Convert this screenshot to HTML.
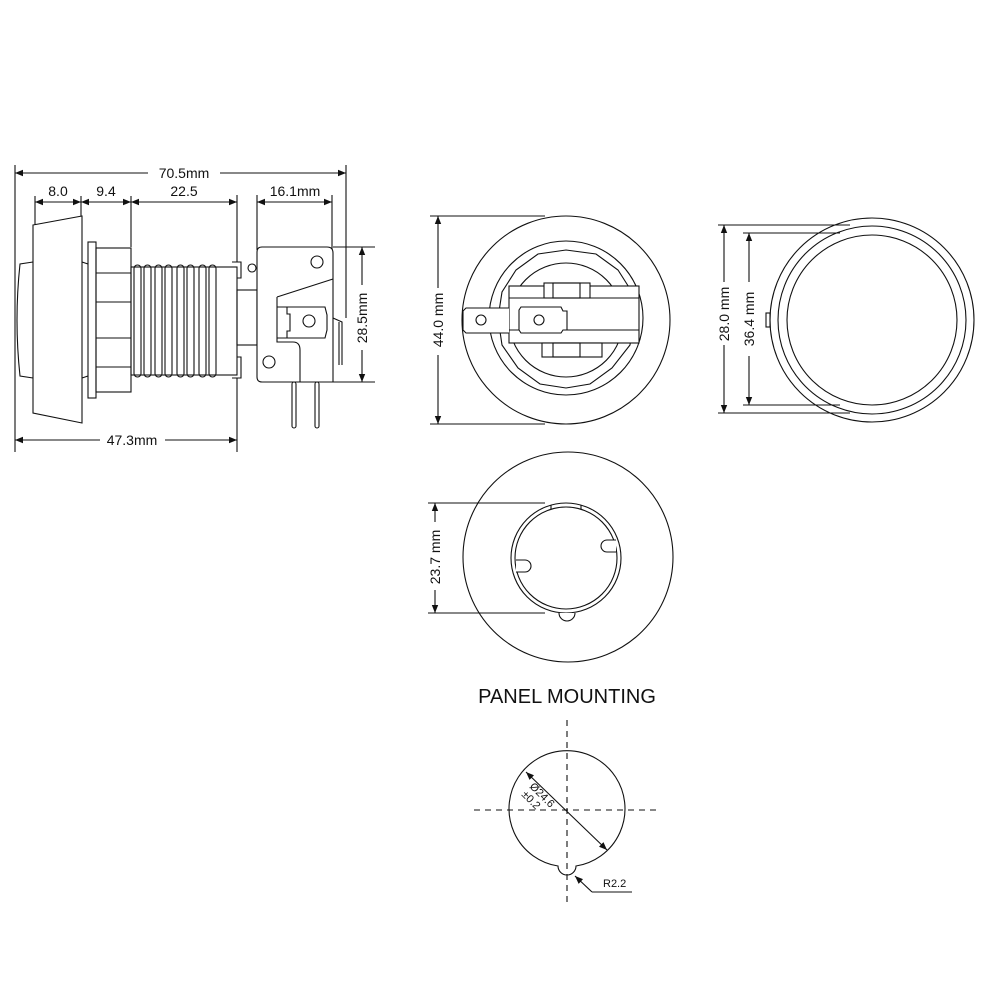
<!DOCTYPE html>
<html><head><meta charset="utf-8"><style>
html,body{margin:0;padding:0;background:#fff}
svg{display:block}
text{font-family:"Liberation Sans",Arial,sans-serif;fill:#111}
</style></head><body>
<svg width="1000" height="1000" viewBox="0 0 1000 1000" xmlns="http://www.w3.org/2000/svg">
<defs>
<marker id="a" viewBox="0 0 10 10" refX="10" refY="5" markerWidth="10" markerHeight="8" orient="auto-start-reverse" markerUnits="userSpaceOnUse"><path d="M0,1 L10,5 L0,9 z" fill="#111"/></marker>
</defs>
<g fill="none" stroke="#111" stroke-width="1.1">
<!-- SIDE VIEW dims -->
<line x1="15" y1="165" x2="15" y2="452"/>
<line x1="346" y1="165" x2="346" y2="318"/>
<line x1="15" y1="173" x2="148" y2="173" marker-start="url(#a)"/>
<line x1="220" y1="173" x2="346" y2="173" marker-end="url(#a)"/>
<line x1="35" y1="196" x2="35" y2="225"/>
<line x1="81" y1="196" x2="81" y2="216"/>
<line x1="131" y1="196" x2="131" y2="247"/>
<line x1="237" y1="195" x2="237" y2="262"/>
<line x1="237" y1="378" x2="237" y2="452"/>
<line x1="35" y1="202" x2="81" y2="202" marker-start="url(#a)" marker-end="url(#a)"/>
<line x1="81" y1="202" x2="131" y2="202" marker-start="url(#a)" marker-end="url(#a)"/>
<line x1="131" y1="202" x2="237" y2="202" marker-start="url(#a)" marker-end="url(#a)"/>
<line x1="257" y1="195" x2="257" y2="250"/>
<line x1="332" y1="195" x2="332" y2="250"/>
<line x1="257" y1="202" x2="332" y2="202" marker-start="url(#a)" marker-end="url(#a)"/>
<line x1="15" y1="440" x2="100" y2="440" marker-start="url(#a)"/>
<line x1="165" y1="440" x2="237" y2="440" marker-end="url(#a)"/>
<line x1="333" y1="247" x2="375" y2="247"/>
<line x1="333" y1="382" x2="375" y2="382"/>
<line x1="362" y1="247" x2="362" y2="285" marker-start="url(#a)"/>
<line x1="362" y1="350" x2="362" y2="382" marker-end="url(#a)"/>
<!-- side view body -->
<path d="M33,262 L20,264 Q14,320 20,376 L33,378"/>
<path d="M33,225 L82,216 L82,423 L33,413 Z"/>
<path d="M82,262 L88,264 M82,378 L88,376"/>
<rect x="88" y="242" width="8" height="156"/>
<rect x="96" y="248" width="35" height="144"/>
<path d="M96,273 H131 M96,302 H131 M96,338 H131 M96,367 H131"/>
<rect x="131" y="267" width="106" height="108"/>
<g>
<rect x="134" y="265" width="7" height="112" rx="3.5"/>
<rect x="144" y="265" width="7" height="112" rx="3.5"/>
<rect x="155" y="265" width="7" height="112" rx="3.5"/>
<rect x="165" y="265" width="7" height="112" rx="3.5"/>
<rect x="177" y="265" width="7" height="112" rx="3.5"/>
<rect x="187" y="265" width="7" height="112" rx="3.5"/>
<rect x="199" y="265" width="7" height="112" rx="3.5"/>
<rect x="209" y="265" width="7" height="112" rx="3.5"/>
</g>
<path d="M232,262 H241 V278 H237 M232,378 H241 V357 H237"/>
<circle cx="252" cy="268" r="4"/>
<rect x="237" y="290" width="20" height="55"/>
<path d="M262,247 H327 Q333,247 333,253 V382 H262 Q257,382 257,377 V252 Q257,247 262,247 Z" fill="#fff"/>
<path d="M277,297 L333,279 M277,297 V342 L293,342 Q300,342 300,350 V382"/>
<path d="M277,307 H325 L327,315 V330 L325,338 H277 M287,307 V314 H290 V331 H287 V338"/>
<circle cx="317" cy="262" r="6"/>
<circle cx="309" cy="321" r="6"/>
<circle cx="269" cy="362" r="6"/>
<path d="M333,318 L342,322 V365 M339,322 V365"/>
<rect x="292" y="382" width="4" height="46" rx="2"/>
<rect x="315" y="382" width="4" height="46" rx="2"/>
<!-- FRONT VIEW -->
<line x1="430" y1="216" x2="545" y2="216"/>
<line x1="430" y1="424" x2="545" y2="424"/>
<line x1="438" y1="216" x2="438" y2="288" marker-start="url(#a)"/>
<line x1="438" y1="355" x2="438" y2="424" marker-end="url(#a)"/>
<circle cx="566" cy="320" r="104"/>
<circle cx="566" cy="318" r="77"/>
<path d="M566,250 L596,254 L618,270 L632,292 L634,318 L630,345 L612,368 L590,384 L566,388 L540,384 L518,368 L502,345 L498,318 L502,292 L516,270 L538,254 Z"/>
<circle cx="566" cy="320" r="57"/>
<rect x="509" y="286" width="130" height="57" fill="#fff"/>
<path d="M509,298 H639 M509,330 H639"/>
<rect x="544" y="283" width="46" height="15" fill="#fff"/>
<rect x="553" y="283" width="27" height="15"/>
<rect x="542" y="343" width="60" height="14" fill="#fff"/>
<rect x="553" y="343" width="27" height="14"/>
<path d="M509,308 H466 L463,311 V330 L466,333 H509" fill="#fff"/>
<circle cx="481" cy="320" r="5"/>
<path d="M521,307 H561 L563,311 H567 V330 H563 L561,333 H521 L519,330 V310 Z" fill="#fff"/>
<circle cx="539" cy="320" r="5"/>
<!-- RIGHT VIEW -->
<line x1="718" y1="225" x2="850" y2="225"/>
<line x1="718" y1="413" x2="850" y2="413"/>
<line x1="743" y1="233" x2="840" y2="233"/>
<line x1="743" y1="405" x2="840" y2="405"/>
<line x1="724" y1="225" x2="724" y2="282" marker-start="url(#a)"/>
<line x1="724" y1="345" x2="724" y2="413" marker-end="url(#a)"/>
<line x1="749" y1="233" x2="749" y2="282" marker-start="url(#a)"/>
<line x1="749" y1="356" x2="749" y2="405" marker-end="url(#a)"/>
<circle cx="872" cy="320" r="102"/>
<circle cx="872" cy="320" r="94"/>
<circle cx="872" cy="320" r="85"/>
<rect x="766" y="313" width="4" height="14"/>
<!-- BOTTOM VIEW -->
<circle cx="568" cy="557" r="105"/>
<line x1="428" y1="503" x2="545" y2="503"/>
<line x1="428" y1="613" x2="545" y2="613"/>
<line x1="435" y1="503" x2="435" y2="522" marker-start="url(#a)"/>
<line x1="435" y1="590" x2="435" y2="613" marker-end="url(#a)"/>
<circle cx="566" cy="558" r="55" fill="#fff"/>
<circle cx="566" cy="558" r="51"/>
<path d="M551,505 V509 M581,505 V509"/>
<path d="M616,540 H607 A6,6 0 0 0 607,552 H616" fill="#fff"/>
<path d="M516,560 H525 A6,6 0 0 1 525,572 H516" fill="#fff"/>
<path d="M559,613 A8,8 0 0 0 575,613" fill="#fff"/>
<!-- PANEL MOUNTING -->
<path d="M558,866 A58,58 0 1 1 576,866 A9,9 0 0 1 558,866 Z"/>
<line x1="567" y1="720" x2="567" y2="905" stroke-dasharray="6,5"/>
<line x1="474" y1="810" x2="660" y2="810" stroke-dasharray="6,5"/>
<line x1="526" y1="772" x2="607" y2="850" marker-start="url(#a)" marker-end="url(#a)"/>
<path d="M592,892 H632"/>
<line x1="592" y1="892" x2="575" y2="876" marker-end="url(#a)"/>
</g>
<g font-size="14">
<text x="184" y="178" text-anchor="middle" fill="#111">70.5mm</text>
<text x="58" y="196" text-anchor="middle">8.0</text>
<text x="106" y="196" text-anchor="middle">9.4</text>
<text x="184" y="196" text-anchor="middle">22.5</text>
<text x="295" y="196" text-anchor="middle">16.1mm</text>
<text x="132" y="445" text-anchor="middle">47.3mm</text>
<text transform="translate(367,318) rotate(-90)" text-anchor="middle">28.5mm</text>
<text transform="translate(443,320) rotate(-90)" text-anchor="middle">44.0 mm</text>
<text transform="translate(729,314) rotate(-90)" text-anchor="middle">28.0 mm</text>
<text transform="translate(754,319) rotate(-90)" text-anchor="middle">36.4 mm</text>
<text transform="translate(440,557) rotate(-90)" text-anchor="middle">23.7 mm</text>
</g>
<text x="567" y="703" text-anchor="middle" font-size="20">PANEL MOUNTING</text>
<g font-size="11">
<text transform="translate(529,787) rotate(45)">Ø24.6</text>
<text transform="translate(521,795) rotate(45)">±0.2</text>
<text x="603" y="887">R2.2</text>
</g>
</svg>
</body></html>
